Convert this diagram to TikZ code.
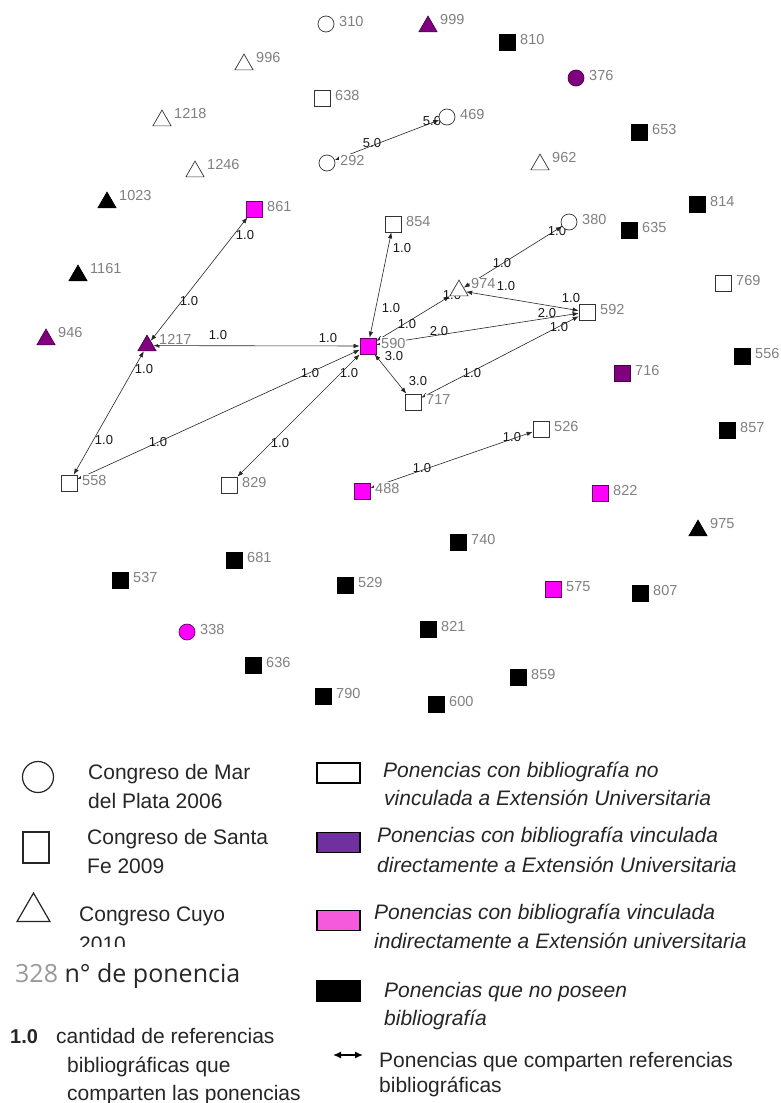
\documentclass[tikz,border=0pt]{standalone}
\usepackage{fontspec}
\setmainfont{Liberation Sans}
\newfontfamily\osans{Open Sans}
\usetikzlibrary{arrows.meta,shapes.geometric}
\pgfdeclarelayer{edges}
\pgfsetlayers{edges,main}
\definecolor{mag}{RGB}{255,0,255}
\definecolor{magb}{RGB}{100,0,100}
\definecolor{pur}{RGB}{128,0,128}
\definecolor{purb}{RGB}{70,0,70}
\definecolor{lgpur}{RGB}{112,48,160}
\definecolor{lgpink}{RGB}{245,90,220}
\definecolor{lblgray}{RGB}{128,128,128}
\tikzset{
 sqbase/.style={rectangle, minimum size=16pt, inner sep=0pt, line width=0.7pt},
 sqW/.style={sqbase, draw=black!80, fill=white},
 sqB/.style={sqbase, draw=black, fill=black},
 sqM/.style={sqbase, draw=magb, fill=mag},
 sqP/.style={sqbase, draw=purb, fill=pur},
 cibase/.style={circle, minimum size=16pt, inner sep=0pt, line width=0.7pt},
 ciW/.style={cibase, draw=black!80, fill=white},
 ciM/.style={cibase, draw=magb, fill=mag},
 ciP/.style={cibase, draw=purb, fill=pur},
 trbase/.style={regular polygon, regular polygon sides=3, minimum size=21pt, inner sep=0pt, line width=0.7pt, yshift=-2.6pt},
 trW/.style={trbase, draw=black!80, fill=white},
 trB/.style={trbase, draw=black, fill=black},
 trP/.style={trbase, draw=purb, fill=pur},
 lbl/.style={anchor=west, fill=white, inner sep=1pt, text=lblgray, font=\fontsize{14.5}{16}\selectfont},
 lnk/.style={draw=black!85, line width=0.6pt, {Latex[length=6pt,width=4.5pt]}-{Latex[length=6pt,width=4.5pt]}},
 elbl/.style={inner sep=0pt, text=black!90, font=\fontsize{13}{15}\selectfont},
 lgtxt/.style={anchor=base west, inner sep=0pt, text=black!85, font=\fontsize{21}{25}\selectfont},
 lgit/.style={lgtxt, font=\fontsize{21}{25}\selectfont\itshape},
 lgrect/.style={rectangle, minimum width=43pt, minimum height=20pt, inner sep=0pt, draw=black, line width=1.5pt},
 lgshape/.style={draw=black!85, line width=1.2pt, inner sep=0pt},
}
\newcommand\mknode[4]{\node[#4] (n#1) at (#2,#3) {}; \node[lbl] (l#1) at (#2+12,#3-2.5) {#1};}
\newcommand\mktri[4]{\node[#4] (n#1) at (#2,#3) {}; \node[lbl] (l#1) at (#2+11,#3-4) {#1};}
\begin{document}
\begin{tikzpicture}[x=1pt,y=-1pt]
\begin{pgfonlayer}{edges}
\fill[white] (0,0) rectangle (780,1103);
\end{pgfonlayer}
\path[use as bounding box] (0,0) rectangle (780,1103);
% nodes
\mknode{310}{326}{24}{ciW}
\mktri{996}{244}{62}{trW}
\mknode{638}{322}{98}{sqW}
\mktri{1218}{162}{118}{trW}
\mktri{1246}{195}{169}{trW}
\mknode{292}{327}{163}{ciW}
\mktri{1023}{107}{200}{trB}
\mknode{861}{254}{209}{sqM}
\mktri{999}{428}{24}{trP}
\mknode{810}{507}{42}{sqB}
\mknode{376}{576}{78}{ciP}
\mknode{469}{447}{117}{ciW}
\mknode{653}{639}{132}{sqB}
\mktri{962}{540}{162}{trW}
\mknode{814}{697}{204}{sqB}
\mknode{380}{569}{222}{ciW}
\mknode{635}{629}{230}{sqB}
\mknode{854}{393}{224}{sqW}
\mktri{1161}{78}{273}{trB}
\mktri{946}{46}{337}{trP}
\mktri{1217}{147}{343}{trP}
\mknode{590}{368}{346}{sqM}
\mknode{558}{69}{483}{sqW}
\mknode{829}{229}{485}{sqW}
\mknode{488}{362}{491}{sqM}
\mktri{974}{459}{288}{trW}
\mknode{592}{587}{312}{sqW}
\mknode{717}{413}{402}{sqW}
\mknode{526}{541}{429}{sqW}
\mknode{769}{723}{283}{sqW}
\mknode{716}{622}{373}{sqP}
\mknode{556}{742}{356}{sqB}
\mknode{857}{727}{430}{sqB}
\mknode{822}{600}{493}{sqM}
\mktri{975}{698}{528}{trB}
\mknode{681}{234}{560}{sqB}
\mknode{537}{120}{580}{sqB}
\mknode{529}{345}{585}{sqB}
\mknode{338}{187}{632}{ciM}
\mknode{636}{253}{665}{sqB}
\mknode{790}{323}{696}{sqB}
\mknode{740}{458}{542}{sqB}
\mknode{575}{553}{589}{sqM}
\mknode{807}{640}{593}{sqB}
\mknode{821}{428}{629}{sqB}
\mknode{859}{518}{677}{sqB}
\mknode{600}{436}{704}{sqB}
% edges
\begin{pgfonlayer}{edges}
\draw[lnk] (n292) -- (n469);
\draw[lnk] (n861) -- (n1217);
\draw[lnk] (n1217) -- (n558);
\draw[lnk] (n1217) -- (n590);
\draw[lnk] (n558) -- (n590);
\draw[lnk] (n829) -- (n590);
\draw[lnk] (n854) -- (n590);
\draw[lnk] (n590) -- (n974);
\draw[lnk] (n974) -- (n380);
\draw[lnk] (n974) -- (n592);
\draw[lnk] (n590) -- (n592);
\draw[lnk] (n590) -- (n717);
\draw[lnk] (n717) -- (n592);
\draw[lnk] (n488) -- (n526);
\node[elbl] (e1a) at (372,143) {5.0};
\node[elbl] (e1b) at (432,121) {5.0};
\node[elbl] (e2a) at (245,235) {1.0};
\node[elbl] (e2b) at (189,301) {1.0};
\node[elbl] (e3a) at (144,369) {1.0};
\node[elbl] (e3b) at (104,440) {1.0};
\node[elbl] (e4a) at (218,335) {1.0};
\node[elbl] (e4b) at (328,338) {1.0};
\node[elbl] (e5a) at (158,442) {1.0};
\node[elbl] (e5b) at (310,373) {1.0};
\node[elbl] (e6a) at (280,443) {1.0};
\node[elbl] (e6b) at (349,373) {1.0};
\node[elbl] (e7a) at (402,248) {1.0};
\node[elbl] (e7b) at (391,308) {1.0};
\node[elbl] (e8a) at (407,324) {1.0};
\node[elbl] (e8b) at (452,295) {1.0};
\node[elbl] (e9a) at (502,263) {1.0};
\node[elbl] (e9b) at (557,231) {1.0};
\node[elbl] (e10a) at (506,286) {1.0};
\node[elbl] (e10b) at (571,298) {1.0};
\node[elbl] (e11a) at (439,331) {2.0};
\node[elbl] (e11b) at (547,313) {2.0};
\node[elbl] (e12a) at (394,356) {3.0};
\node[elbl] (e12b) at (418,381) {3.0};
\node[elbl] (e13a) at (472,373) {1.0};
\node[elbl] (e13b) at (559,327) {1.0};
\node[elbl] (e14a) at (422,468) {1.0};
\node[elbl] (e14b) at (512,437) {1.0};
\end{pgfonlayer}
% legend left
\node[lgshape, circle, minimum size=31pt] (lgc) at (38,777) {};
\node[lgshape, rectangle, minimum width=26pt, minimum height=31pt] (lgs) at (36,847.5) {};
\node[lgshape, regular polygon, regular polygon sides=3, minimum size=38pt] (lgt) at (33.5,912) {};
\node[lgtxt] (t1) at (88,779) {Congreso de Mar};
\node[lgtxt] (t2) at (88,808) {del Plata 2006};
\node[lgtxt] (t3) at (87,844) {Congreso de Santa};
\node[lgtxt] (t4) at (87,873) {Fe 2009};
\node[lgtxt] (t5) at (79,921.5) {Congreso Cuyo};
\begin{scope}
\clip (70,925) rectangle (170,946);
\node[lgtxt] (t6) at (79,951) {2010};
\end{scope}
\node[lgtxt, font=\osans\fontsize{25}{30}\selectfont] (t7) at (15,982) {\textcolor{black!40}{328} n° de ponencia};
\node[lgtxt, font=\bfseries\fontsize{20}{24}\selectfont] (t8) at (10,1043) {1.0};
\node[lgtxt] (t9) at (56,1043) {cantidad de referencias};
\node[lgtxt] (t10) at (67,1072) {bibliográficas que};
\node[lgtxt] (t11) at (67,1100) {comparten las ponencias};
% legend right
\node[lgrect, fill=white] (r1) at (338.5,773) {};
\node[lgrect, fill=lgpur] (r2) at (338.5,842.5) {};
\node[lgrect, fill=lgpink] (r3) at (338.5,920.5) {};
\node[lgrect, fill=black] (r4) at (338.5,991) {};
\node[lgit] (u1) at (383,777) {Ponencias con bibliografía no};
\node[lgit] (u2) at (384,805) {vinculada a Extensión Universitaria};
\node[lgit] (u3) at (377,842) {Ponencias con bibliografía vinculada};
\node[lgit] (u4) at (377,872) {directamente a Extensión Universitaria};
\node[lgit] (u5) at (374,919) {Ponencias con bibliografía vinculada};
\node[lgit] (u6) at (374,948) {indirectamente a Extensión universitaria};
\node[lgit] (u7) at (384,997) {Ponencias que no poseen};
\node[lgit] (u8) at (384,1025) {bibliografía};
\coordinate (la1) at (333,1055);
\coordinate (la2) at (363,1055);
\draw[line width=1.4pt, {Latex[length=8pt,width=7pt]}-{Latex[length=8pt,width=7pt]}] (la1) -- (la2);
\node[lgtxt] (u9) at (379,1067) {Ponencias que comparten referencias};
\node[lgtxt] (u10) at (379,1092) {bibliográficas};
\end{tikzpicture}
\end{document}
